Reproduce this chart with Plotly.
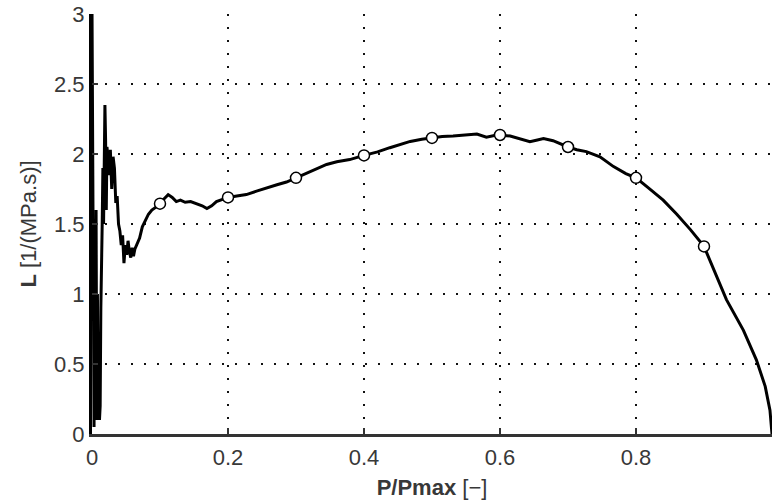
import plotly.graph_objects as go

# Curve L vs P/Pmax
p_ratio = [0.000, 0.001, 0.002, 0.003, 0.004, 0.005, 0.006, 0.007, 0.008, 0.009,
           0.010, 0.011, 0.012, 0.013, 0.015, 0.016, 0.017, 0.018, 0.019, 0.020,
           0.021, 0.022, 0.024, 0.026, 0.027, 0.029, 0.031, 0.033, 0.035, 0.037,
           0.039, 0.041, 0.043, 0.045, 0.047, 0.049, 0.051, 0.053, 0.055, 0.057,
           0.059, 0.061, 0.063, 0.066, 0.070, 0.074, 0.078, 0.083, 0.088, 0.094,
           0.100, 0.106, 0.112, 0.118, 0.124, 0.130, 0.137, 0.145, 0.154, 0.162,
           0.169, 0.176, 0.183, 0.192, 0.200, 0.213, 0.227, 0.242, 0.257, 0.272,
           0.286, 0.300, 0.315, 0.330, 0.345, 0.360, 0.379, 0.400, 0.420, 0.438,
           0.455, 0.468, 0.485, 0.500, 0.515, 0.531, 0.548, 0.566, 0.580, 0.595,
           0.615, 0.630, 0.644, 0.655, 0.664, 0.678, 0.690, 0.700, 0.713, 0.727,
           0.747, 0.767, 0.785, 0.800, 0.816, 0.840, 0.860, 0.880, 0.900, 0.915,
           0.933, 0.958, 0.977, 0.990, 0.997, 1.000]
L_values = [3.05, 2.00, 0.60, 0.05, 1.20, 0.30, 1.60, 0.10, 1.00, 0.15,
            0.50, 0.10, 0.20, 0.90, 1.50, 1.90, 1.50, 2.20, 2.35, 2.10,
            1.60, 2.05, 1.95, 1.85, 2.03, 1.75, 1.98, 1.90, 1.65, 1.70,
            1.50, 1.45, 1.35, 1.42, 1.22, 1.35, 1.28, 1.38, 1.30, 1.26,
            1.33, 1.27, 1.32, 1.36, 1.40, 1.48, 1.52, 1.57, 1.60, 1.62,
            1.65, 1.68, 1.71, 1.69, 1.66, 1.67, 1.655, 1.66, 1.645, 1.63,
            1.61, 1.63, 1.66, 1.675, 1.69, 1.70, 1.71, 1.735, 1.755, 1.78,
            1.80, 1.83, 1.86, 1.89, 1.925, 1.945, 1.96, 1.99, 2.015, 2.045,
            2.07, 2.09, 2.105, 2.115, 2.125, 2.128, 2.135, 2.143, 2.12, 2.136,
            2.129, 2.11, 2.088, 2.10, 2.11, 2.095, 2.07, 2.05, 2.03, 2.017,
            1.98, 1.91, 1.86, 1.83, 1.767, 1.67, 1.57, 1.46, 1.34, 1.17,
            0.96, 0.74, 0.53, 0.34, 0.17, 0.00]

# Marker points
marker_p = [0.1, 0.2, 0.3, 0.4, 0.5, 0.6, 0.7, 0.8, 0.9]
marker_L = [1.645, 1.69, 1.83, 1.99, 2.115, 2.136, 2.05, 1.83, 1.34]

x_ticks = [0, 0.2, 0.4, 0.6, 0.8, 1]
x_ticklabels = ["0", "0.2", "0.4", "0.6", "0.8", "1"]
y_ticks = [0, 0.5, 1, 1.5, 2, 2.5, 3]
y_ticklabels = ["0", "0.5", "1", "1.5", "2", "2.5", "3"]

fig = go.Figure()
fig.add_trace(go.Scatter(x=p_ratio, y=L_values, mode="lines",
                         line=dict(color="black", width=3), hoverinfo="skip",
                         showlegend=False))
fig.add_trace(go.Scatter(x=marker_p, y=marker_L, mode="markers",
                         marker=dict(symbol="circle", size=11, color="white",
                                     line=dict(color="black", width=1.5)),
                         showlegend=False, cliponaxis=False))

font_family = "Liberation Sans, Arial, sans-serif"
fig.update_layout(
    width=772, height=502,
    margin=dict(l=92, r=0, t=14, b=68),
    plot_bgcolor="white", paper_bgcolor="white",
    font=dict(family=font_family, size=22, color="#383838"),
    xaxis=dict(range=[0, 1], tickvals=x_ticks, ticktext=x_ticklabels,
               showgrid=True, gridcolor="#111111", gridwidth=2, griddash="2px,11px",
               showline=True, linecolor="#333333", linewidth=3,
               ticks="inside", ticklen=6, tickcolor="#333333", tickwidth=1.5,
               zeroline=False, ticklabelstandoff=2,
               title=dict(text="<b>P/Pmax</b> [−]", standoff=11,
                          font=dict(size=22, color="#383838"))),
    yaxis=dict(range=[0, 3], tickvals=y_ticks, ticktext=y_ticklabels,
               showgrid=True, gridcolor="#111111", gridwidth=2, griddash="2px,11px",
               showline=True, linecolor="black", linewidth=3,
               ticks="inside", ticklen=6, tickcolor="#333333", tickwidth=1.5,
               zeroline=False,
               title=dict(text="<b>L</b> [1/(MPa.s)]", standoff=12,
                          font=dict(size=22, color="#383838"))),
)

fig.write_html("out.html")
